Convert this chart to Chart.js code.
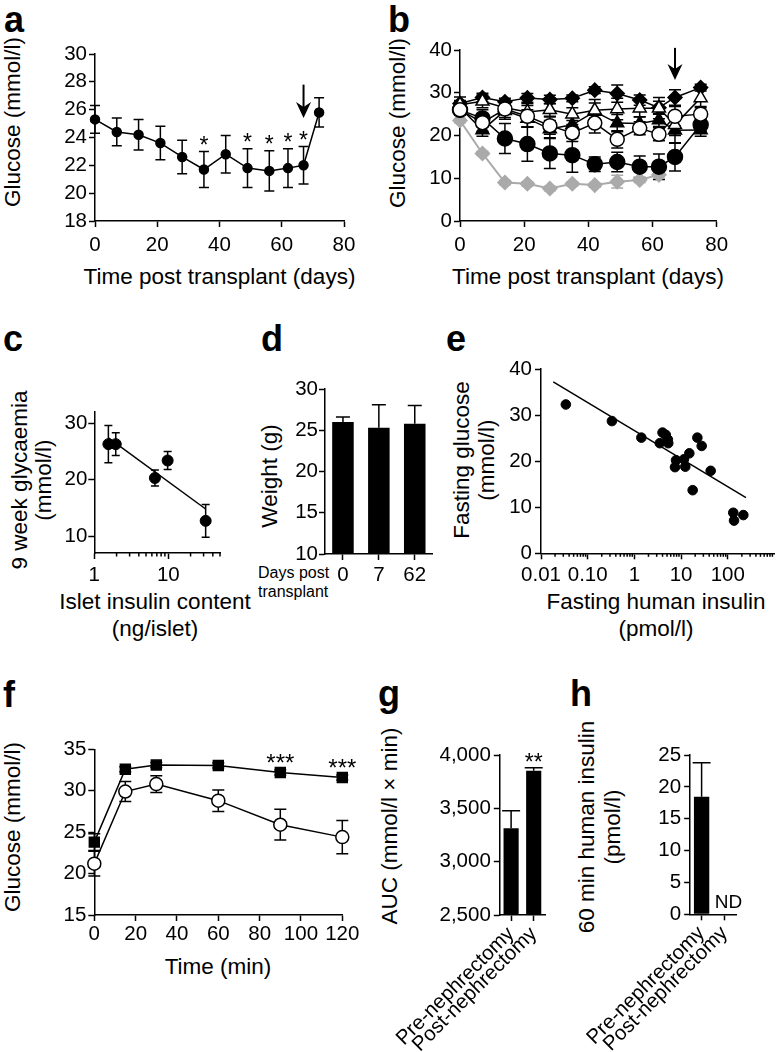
<!DOCTYPE html>
<html>
<head>
<meta charset="utf-8">
<script src="https://cdn.jsdelivr.net/npm/chart.js@4.4.0/dist/chart.umd.min.js"></script>
<style>
  body { margin: 0; background: #fff; width: 776px; height: 1052px; position: relative; overflow: hidden;
         font-family: "Liberation Sans", Arial, sans-serif; color: #000; }
  canvas { position: absolute; }
  .tag { position: absolute; font-weight: bold; font-size: 36px; line-height: 36px; }
  .note { position: absolute; font-size: 16px; line-height: 19px; }
  .t { position: absolute; font-size: 22.5px; line-height: 26px; height: 26px; width: 400px;
       text-align: center; white-space: nowrap; }
  .ty { width: 300px; transform: rotate(-90deg); }
</style>
</head>
<body>
<div class="tag" style="left:4px;top:2px">a</div>
<div class="tag" style="left:388px;top:2px">b</div>
<div class="tag" style="left:3px;top:321px">c</div>
<div class="tag" style="left:261px;top:321px">d</div>
<div class="tag" style="left:446px;top:321px">e</div>
<div class="tag" style="left:3px;top:677px">f</div>
<div class="tag" style="left:378px;top:676px">g</div>
<div class="tag" style="left:570px;top:676px">h</div>
<div class="note" style="left:258px;top:563px">Days post<br>transplant</div>

<!-- axis titles -->
<div class="t" style="left:19.5px;top:264px">Time post transplant (days)</div>
<div class="t ty" style="left:-137px;top:109px">Glucose (mmol/l)</div>
<div class="t" style="left:388px;top:264px">Time post transplant (days)</div>
<div class="t ty" style="left:248px;top:110px">Glucose (mmol/l)</div>
<div class="t" style="left:-45px;top:589px;height:53px;line-height:26.5px">Islet insulin content<br>(ng/islet)</div>
<div class="t ty" style="left:-118.5px;top:456px;height:48px;line-height:24px">9 week glycaemia<br>(mmol/l)</div>
<div class="t ty" style="left:120px;top:463px">Weight (g)</div>
<div class="t ty" style="left:324px;top:435px;height:50px;line-height:25px">Fasting glucose<br>(mmol/l)</div>
<div class="t" style="left:456px;top:589px;height:53px;line-height:26.5px">Fasting human insulin<br>(pmol/l)</div>
<div class="t ty" style="left:-136.7px;top:814px">Glucose (mmol/l)</div>
<div class="t" style="left:18px;top:954px">Time (min)</div>
<div class="t ty" style="left:240px;top:813px">AUC (mmol/l &times; min)</div>
<div class="t ty" style="left:450px;top:801px;height:52px;line-height:26px">60 min human insulin<br>(pmol/l)</div>

<canvas id="chartA" width="380" height="270" style="left:0px;top:30px"></canvas>
<canvas id="chartB" width="392" height="270" style="left:384px;top:30px"></canvas>
<canvas id="chartC" width="250" height="260" style="left:0px;top:390px"></canvas>
<canvas id="chartD" width="200" height="240" style="left:250px;top:370px"></canvas>
<canvas id="chartE" width="336" height="300" style="left:440px;top:350px"></canvas>
<canvas id="chartF" width="380" height="275" style="left:0px;top:725px"></canvas>
<canvas id="chartG" width="185" height="322" style="left:375px;top:730px"></canvas>
<canvas id="chartH" width="200" height="322" style="left:565px;top:730px"></canvas>

<script>
// ---- a: glucose after transplant ----
var aDays = [0, 7, 14, 21, 28, 35, 42, 49, 56, 62, 67, 72];
var aGlucose = [25.3, 24.4, 24.2, 23.6, 22.6, 21.7, 22.8, 21.8, 21.6, 21.8, 22.0, 25.8];
var aSem = [1.0, 1.0, 1.1, 1.2, 1.2, 1.3, 1.35, 1.4, 1.45, 1.4, 1.35, 1.05];
var aStarDays = [35, 49, 56, 62, 67];
var aArrow = [67, 27.8, 25.4];
var aXTicks = [0, 20, 40, 60, 80];
var aYTicks = [18, 20, 22, 24, 26, 28, 30];

// ---- b: individual mice ----
var bDays = [0, 7, 14, 21, 28, 35, 42, 49, 56, 62, 67, 75];
var bDiamond = [27.5, 28.9, 27.9, 28.8, 28.4, 28.7, 30.6, 29.8, 28.3, 26.5, 28.9, 31.2];
var bDiamondErr = [1.5, 1.0, 0.8, 1.0, 1.0, 0.8, 0.8, 2.0, 1.2, 1.5, 1.8, 0.8];
var bOpenTri = [27.2, 28.0, 26.5, 25.5, 26.0, 25.0, 25.9, 26.2, 26.4, 26.4, 22.5, 28.8];
var bOpenTriErr = [1.0, 1.5, 1.5, 2.0, 1.5, 1.5, 2.5, 2.5, 2.0, 2.5, 2.5, 2.0];
var bOpenCircle = [26.0, 23.0, 26.2, 24.5, 22.3, 20.6, 22.9, 19.1, 21.7, 20.3, 24.5, 25.0];
var bOpenCircleErr = [1.2, 2.0, 2.0, 2.5, 2.0, 2.0, 2.3, 2.0, 1.5, 1.5, 2.3, 1.5];
var bFilledTri = [26.5, 21.3, 25.8, 24.0, 21.5, 22.5, 25.6, 22.9, 22.8, 23.6, 21.2, 21.3];
var bFilledTriErr = [1.5, 1.5, 2.0, 2.0, 2.0, 2.0, 2.0, 2.0, 1.5, 1.5, 3.0, 1.5];
var bFilledCircle = [26.0, 24.0, 19.3, 18.0, 15.8, 15.4, 13.3, 13.8, 12.7, 12.7, 15.0, 22.5];
var bFilledCircleErr = [1.2, 2.0, 3.5, 4.0, 3.5, 4.0, 1.7, 2.3, 2.5, 3.0, 3.3, 1.5];
var bGrey = [23.5, 15.8, 9.0, 8.7, 7.6, 8.7, 8.4, 9.2, 9.6, 10.8];
var bGreyErr = [0.5, 0.5, 0.5, 0.5, 0.5, 0.5, 0.5, 1.5, 0.6, 0.8];
var bArrow = [67, 40.5, 33.0];
var bXTicks = [0, 20, 40, 60, 80];
var bYTicks = [0, 10, 20, 30, 40];

// ---- c: insulin content vs glycaemia ----
var cInsulin = [1.55, 1.95, 6.6, 9.8, 32];
var cGlyc = [26.3, 26.3, 20.3, 23.4, 12.7];
var cSem = [3.3, 2.0, 1.4, 1.6, 2.9];
var cFitX = [1.55, 32];
var cFitY = [27.4, 14.8];
var cXTicks = [1, 10];
var cXLabels = ['1', '10'];
var cXMinor = [2, 3, 4, 5, 6, 7, 8, 9, 20, 30, 40, 50];
var cYTicks = [10, 20, 30];

// ---- d: body weight ----
var dLabels = ['0', '7', '62'];
var dWeight = [26.0, 25.3, 25.8];
var dSd = [0.6, 2.8, 2.2];
var dYTicks = [10, 15, 20, 25, 30];

// ---- e: fasting insulin vs glucose ----
var eInsulin = [0.034, 0.33, 1.41, 3.5, 4.0, 4.7, 5.2, 5.3, 7.4, 7.8, 11.5, 12.3, 15, 17.7, 22.3, 27.6, 43, 131, 136, 215];
var eGlucose = [32.3, 28.7, 25.1, 23.9, 26.2, 25.7, 24.7, 23.9, 18.7, 20.2, 20.4, 18.8, 21.7, 13.7, 25.1, 23.3, 17.9, 8.8, 7.1, 8.3];
var eFitX = [0.0183, 245];
var eFitY = [37.2, 12.1];
var eXTicks = [0.01, 0.1, 1, 10, 100];
var eXLabels = ['0.01', '0.10', '1', '10', '100'];
var eXMinor = [0.02, 0.03, 0.04, 0.05, 0.06, 0.07, 0.08, 0.09, 0.2, 0.3, 0.4, 0.5, 0.6, 0.7, 0.8, 0.9,
               2, 3, 4, 5, 6, 7, 8, 9, 20, 30, 40, 50, 60, 70, 80, 90, 200, 300, 400, 500, 600, 700, 800, 900];
var eYTicks = [0, 10, 20, 30, 40];

// ---- f: glucose tolerance ----
var fTime = [0, 15, 30, 60, 90, 120];
var fPost = [23.8, 32.6, 33.1, 33.05, 32.2, 31.6];
var fPostErr = [1.0, 0.3, 0.3, 0.3, 0.3, 0.3];
var fPre = [21.2, 29.9, 30.8, 28.8, 25.9, 24.4];
var fPreErr = [1.5, 1.2, 1.0, 1.3, 1.85, 2.0];
var fStarTimes = [90, 120];
var fXTicks = [0, 20, 40, 60, 80, 100, 120];
var fYTicks = [15, 20, 25, 30, 35];

// ---- g: AUC ----
var gLabels = ['Pre-nephrectomy', 'Post-nephrectomy'];
var gAuc = [3313, 3853];
var gSem = [165, 28];
var gYTicks = [2500, 3000, 3500, 4000];
var gYLabels = ['2,500', '3,000', '3,500', '4,000'];

// ---- h: human insulin ----
var hLabels = ['Pre-nephrectomy', 'Post-nephrectomy'];
var hInsulin = [18.45, null];
var hSem = [5.35, null];
var hYTicks = [0, 5, 10, 15, 20, 25];

// draws error bars behind the markers, from dataset.errors
var errorBars = {
    id: 'errorBars',
    beforeDatasetsDraw: function(chart) {
        var ctx = chart.ctx;
        chart.data.datasets.forEach(function(ds, i) {
            if (!ds.errors) return;
            var meta = chart.getDatasetMeta(i);
            var ys = chart.scales[meta.yAxisID];
            ctx.save();
            ctx.strokeStyle = ds.errorColor || '#000';
            ctx.lineWidth = 1.5;
            meta.data.forEach(function(el, j) {
                var e = ds.errors[j];
                var d = ds.data[j];
                var v = (d !== null && typeof d === 'object') ? d.y : d;
                if (e == null || v == null) return;
                var top = ys.getPixelForValue(v + e);
                var bot = ds.upperOnly ? ys.getPixelForValue(v) : ys.getPixelForValue(v - e);
                var w = ds.capWidth || 5;
                ctx.beginPath();
                ctx.moveTo(el.x, top); ctx.lineTo(el.x, bot);
                ctx.moveTo(el.x - w, top); ctx.lineTo(el.x + w, top);
                if (!ds.upperOnly) { ctx.moveTo(el.x - w, bot); ctx.lineTo(el.x + w, bot); }
                ctx.stroke();
            });
            ctx.restore();
        });
    }
};

// asterisks, ND text and arrows, placed in data units
var notes = {
    id: 'notes',
    afterDatasetsDraw: function(chart, args, opts) {
        if (!opts.texts && !opts.arrows) return;
        var ctx = chart.ctx, xs = chart.scales.x, ys = chart.scales.y;
        ctx.save();
        ctx.fillStyle = '#000';
        ctx.strokeStyle = '#000';
        (opts.texts || []).forEach(function(t) {
            ctx.font = (t.size || 20) + 'px "Liberation Sans", Arial, sans-serif';
            ctx.textAlign = 'center';
            ctx.textBaseline = 'alphabetic';
            ctx.fillText(t.text, xs.getPixelForValue(t.x) + (t.dx || 0), ys.getPixelForValue(t.y) + (t.dy || 0));
        });
        (opts.arrows || []).forEach(function(a) {
            var x = xs.getPixelForValue(a[0]);
            var y1 = ys.getPixelForValue(a[1]);
            var y2 = ys.getPixelForValue(a[2]);
            ctx.lineWidth = 2;
            ctx.beginPath(); ctx.moveTo(x, y1); ctx.lineTo(x, y2 - 10); ctx.stroke();
            ctx.beginPath();
            ctx.moveTo(x - 7.5, y2 - 16); ctx.lineTo(x, y2 - 11); ctx.lineTo(x + 7.5, y2 - 16); ctx.lineTo(x, y2);
            ctx.closePath(); ctx.fill();
        });
        ctx.restore();
    }
};

// short ticks between the decades of a log axis
var minorTicks = {
    id: 'minorTicks',
    afterDraw: function(chart, args, opts) {
        if (!opts.values) return;
        var xs = chart.scales.x, ctx = chart.ctx;
        ctx.save();
        ctx.strokeStyle = '#000';
        ctx.lineWidth = 1.5;
        opts.values.forEach(function(v) {
            var x = xs.getPixelForValue(v);
            ctx.beginPath(); ctx.moveTo(x, xs.top); ctx.lineTo(x, xs.top + 3.5); ctx.stroke();
        });
        ctx.restore();
    }
};

Chart.register(errorBars, notes, minorTicks);
Chart.defaults.font.family = '"Liberation Sans", Arial, sans-serif';
Chart.defaults.color = '#000';

var tickFont = { size: 20.5 };
var tickGrid = { drawOnChartArea: false, tickLength: 6, tickWidth: 1.5, tickColor: '#000', color: '#000' };
var axisLine = { color: '#000', width: 1.5 };

// canvas edges vs wanted plot area, in page pixels
function frame(id, area) {
    var cv = document.getElementById(id);
    var left = parseFloat(cv.style.left), top = parseFloat(cv.style.top);
    return { left: area.l - left, top: area.t - top, right: left + cv.width - area.r, bottom: top + cv.height - area.b };
}

function valueAxis(o) {
    return {
        type: o.type || 'linear', min: o.min, max: o.max, bounds: 'data',
        afterFit: function(s) { if (s.isHorizontal()) s.height = o.size; else s.width = o.size; },
        afterBuildTicks: function(s) { s.ticks = o.ticks.map(function(v) { return { value: v }; }); },
        ticks: { font: tickFont, color: '#000', padding: o.tickPad, autoSkip: false, maxRotation: 0,
                 callback: function(v, i) { return o.labels ? o.labels[i] : String(v); } },
        grid: tickGrid,
        border: axisLine
    };
}

function catAxis(o) {
    return {
        type: 'category', offset: true,
        afterFit: function(s) { s.height = o.size; },
        ticks: { font: tickFont, color: '#000', padding: o.tickPad, autoSkip: false,
                 maxRotation: o.rot || 0, minRotation: o.rot || 0 },
        grid: Object.assign({ offset: false }, tickGrid),
        border: axisLine
    };
}

function baseOptions(fr, scales, plugins) {
    return {
        responsive: false, animation: false, events: [],
        layout: { autoPadding: false, padding: { left: 0, top: fr.top, right: fr.right, bottom: 0 } },
        plugins: Object.assign({ legend: { display: false }, tooltip: { enabled: false } }, plugins || {}),
        scales: scales
    };
}

function points(xs, ys) {
    return xs.slice(0, ys.length).map(function(x, i) { return { x: x, y: ys[i] }; });
}

function lineSet(xs, ys, errs, style) {
    return Object.assign({
        data: points(xs, ys), errors: errs, showLine: true, clip: false,
        borderColor: '#000', borderWidth: 1.5,
        pointBorderColor: '#000', pointBorderWidth: 1.5, pointBackgroundColor: '#000'
    }, style);
}

// a
var fa = frame('chartA', { l: 95, t: 54, r: 344, b: 221 });
new Chart('chartA', {
    type: 'scatter',
    data: { datasets: [lineSet(aDays, aGlucose, aSem, { pointRadius: 4.5, capWidth: 5 })] },
    options: baseOptions(fa, {
        x: valueAxis({ min: 0, max: 80, ticks: aXTicks, size: fa.bottom, tickPad: 6 }),
        y: valueAxis({ min: 18, max: 30, ticks: aYTicks, size: fa.left, tickPad: 2 })
    }, { notes: {
        texts: aStarDays.map(function(d) {
            var i = aDays.indexOf(d);
            return { text: '*', x: d, y: aGlucose[i] + aSem[i], dy: 1.5, size: 23 };
        }),
        arrows: [aArrow]
    } })
});

// b
var fb = frame('chartB', { l: 460, t: 50, r: 716.7, b: 221 });
new Chart('chartB', {
    type: 'scatter',
    data: { datasets: [
        lineSet(bDays, bOpenCircle, bOpenCircleErr, { pointStyle: 'circle', pointRadius: 7, pointBackgroundColor: '#fff', capWidth: 6 }),
        lineSet(bDays, bOpenTri, bOpenTriErr, { pointStyle: 'triangle', pointRadius: 7.5, pointBackgroundColor: '#fff', capWidth: 6 }),
        lineSet(bDays, bDiamond, bDiamondErr, { pointStyle: 'rectRot', pointRadius: 7, capWidth: 6 }),
        lineSet(bDays, bFilledTri, bFilledTriErr, { pointStyle: 'triangle', pointRadius: 7.5, capWidth: 6 }),
        lineSet(bDays, bFilledCircle, bFilledCircleErr, { pointStyle: 'circle', pointRadius: 7.5, capWidth: 6 }),
        lineSet(bDays, bGrey, bGreyErr, { pointStyle: 'rectRot', pointRadius: 7, borderColor: '#aaaaaa', borderWidth: 2,
            pointBorderColor: '#aaaaaa', pointBackgroundColor: '#aaaaaa', errorColor: '#aaaaaa', capWidth: 6 })
    ] },
    options: baseOptions(fb, {
        x: valueAxis({ min: 0, max: 80, ticks: bXTicks, size: fb.bottom, tickPad: 6 }),
        y: valueAxis({ min: 0, max: 40, ticks: bYTicks, size: fb.left, tickPad: 2 })
    }, { notes: { arrows: [bArrow] } })
});

// c
var fc = frame('chartC', { l: 94.3, t: 412, r: 220, b: 553 });
new Chart('chartC', {
    type: 'scatter',
    data: { datasets: [
        { data: points(cInsulin, cGlyc), errors: cSem, capWidth: 4, clip: false, pointRadius: 5.5,
          pointBackgroundColor: '#000', pointBorderColor: '#000' },
        { data: points(cFitX, cFitY), showLine: true, clip: false, pointRadius: 0, borderColor: '#000', borderWidth: 1.5 }
    ] },
    options: baseOptions(fc, {
        x: valueAxis({ type: 'logarithmic', min: 1, max: 50, ticks: cXTicks, labels: cXLabels, size: fc.bottom, tickPad: 4 }),
        y: valueAxis({ min: 7, max: 32, ticks: cYTicks, size: fc.left, tickPad: 1 })
    }, { minorTicks: { values: cXMinor } })
});

// d
var fd = frame('chartD', { l: 325, t: 389, r: 432.7, b: 554 });
new Chart('chartD', {
    type: 'bar',
    data: { labels: dLabels, datasets: [
        { data: dWeight, errors: dSd, upperOnly: true, capWidth: 7, backgroundColor: '#000',
          barPercentage: 0.6, categoryPercentage: 1 }
    ] },
    options: baseOptions(fd, {
        x: catAxis({ size: fd.bottom, tickPad: 3 }),
        y: valueAxis({ min: 10, max: 30, ticks: dYTicks, size: fd.left, tickPad: 1 })
    })
});

// e
var fe = frame('chartE', { l: 541, t: 369, r: 774.5, b: 553.3 });
new Chart('chartE', {
    type: 'scatter',
    data: { datasets: [
        { data: points(eInsulin, eGlucose), clip: false, pointRadius: 4.8, pointBackgroundColor: '#000', pointBorderColor: '#000' },
        { data: points(eFitX, eFitY), showLine: true, clip: false, pointRadius: 0, borderColor: '#000', borderWidth: 1.5 }
    ] },
    options: baseOptions(fe, {
        x: valueAxis({ type: 'logarithmic', min: 0.01, max: 1000, ticks: eXTicks, labels: eXLabels, size: fe.bottom, tickPad: 4 }),
        y: valueAxis({ min: 0, max: 40, ticks: eYTicks, size: fe.left, tickPad: 3 })
    }, { minorTicks: { values: eXMinor } })
});

// f
var ff = frame('chartF', { l: 94.3, t: 749.3, r: 342.3, b: 915 });
new Chart('chartF', {
    type: 'scatter',
    data: { datasets: [
        lineSet(fTime, fPre, fPreErr, { pointStyle: 'circle', pointRadius: 6.5, pointBackgroundColor: '#fff', capWidth: 6 }),
        lineSet(fTime, fPost, fPostErr, { pointStyle: 'rect', pointRadius: 7, capWidth: 6 })
    ] },
    options: baseOptions(ff, {
        x: valueAxis({ min: 0, max: 120, ticks: fXTicks, size: ff.bottom, tickPad: 1.5 }),
        y: valueAxis({ min: 15, max: 35, ticks: fYTicks, size: ff.left, tickPad: 2 })
    }, { notes: {
        texts: fStarTimes.map(function(t) {
            return { text: '***', x: t, y: fPost[fTime.indexOf(t)], dy: -1, size: 24 };
        })
    } })
});

// g
var fg = frame('chartG', { l: 470.7, t: 755, r: 545, b: 915 });
new Chart('chartG', {
    type: 'bar',
    data: { labels: gLabels, datasets: [
        { data: gAuc, errors: gSem, upperOnly: true, capWidth: 9, backgroundColor: '#000',
          barPercentage: 0.67, categoryPercentage: 1 }
    ] },
    options: baseOptions(fg, {
        x: catAxis({ size: fg.bottom, tickPad: 1, rot: 45 }),
        y: valueAxis({ min: 2500, max: 4000, ticks: gYTicks, labels: gYLabels, size: fg.left, tickPad: 3 })
    }, { notes: { texts: [{ text: '**', x: 1, y: gAuc[1] + gSem[1], dy: 2.5, size: 23 }] } })
});

// h
var fh = frame('chartH', { l: 662.7, t: 755, r: 736, b: 914.3 });
new Chart('chartH', {
    type: 'bar',
    data: { labels: hLabels, datasets: [
        { data: hInsulin, errors: hSem, upperOnly: true, capWidth: 9, backgroundColor: '#000',
          barPercentage: 0.67, categoryPercentage: 1 }
    ] },
    options: baseOptions(fh, {
        x: catAxis({ size: fh.bottom, tickPad: 1, rot: 45 }),
        y: valueAxis({ min: 0, max: 25, ticks: hYTicks, size: fh.left, tickPad: 3 })
    }, { notes: { texts: [{ text: 'ND', x: 1, y: 0, dx: 4, dy: -6, size: 19 }] } })
});
</script>
</body>
</html>
